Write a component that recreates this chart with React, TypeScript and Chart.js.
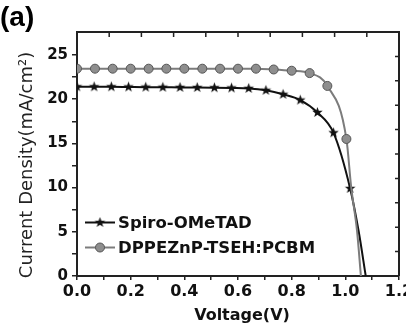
import React, { useEffect, useRef } from "react";
import { Chart, registerables } from "chart.js";

Chart.register(...registerables);

// Spiro-OMeTAD: points carrying star markers, then the curve's tail to Voc
const spiroMarkerVoltage = [0, 0.064, 0.128, 0.192, 0.256, 0.32, 0.384, 0.448, 0.512, 0.576, 0.64, 0.704, 0.768, 0.832, 0.896, 0.956, 1.018];
const spiroMarkerCurrent = [21.4, 21.4, 21.4, 21.38, 21.36, 21.35, 21.33, 21.32, 21.3, 21.27, 21.22, 21.0, 20.55, 19.9, 18.5, 16.2, 9.9];
const spiroTailVoltage = [1.05, 1.076];
const spiroTailCurrent = [5, 0];

// DPPEZnP-TSEH:PCBM: points carrying circle markers, then the tail to Voc
const dppMarkerVoltage = [0, 0.067, 0.133, 0.2, 0.267, 0.333, 0.4, 0.467, 0.533, 0.6, 0.667, 0.733, 0.8, 0.867, 0.933, 1.004];
const dppMarkerCurrent = [23.45, 23.45, 23.45, 23.45, 23.45, 23.45, 23.45, 23.45, 23.45, 23.45, 23.45, 23.36, 23.22, 22.95, 21.5, 15.5];
const dppTailVoltage = [1.022, 1.044, 1.058];
const dppTailCurrent = [10, 5, 0];

const seriesNames = ["Spiro-OMeTAD", "DPPEZnP-TSEH:PCBM"];
const xTitle = "Voltage(V)";
const yTitle = "Current Density(mA/cm²)";
const panelLabel = "(a)";

const BOLD = "'DejaVu Sans', sans-serif";

function makeStar(r: number, color: string): HTMLCanvasElement {
  const size = Math.ceil(r * 2 + 2);
  const c = document.createElement("canvas");
  c.width = size;
  c.height = size;
  const g = c.getContext("2d")!;
  const cx = size / 2, cy = size / 2;
  g.beginPath();
  for (let i = 0; i < 10; i++) {
    const rad = i % 2 === 0 ? r : r * 0.42;
    const ang = -Math.PI / 2 + (i * Math.PI) / 5;
    const px = cx + rad * Math.cos(ang);
    const py = cy + rad * Math.sin(ang);
    if (i === 0) g.moveTo(px, py);
    else g.lineTo(px, py);
  }
  g.closePath();
  g.fillStyle = color;
  g.fill();
  return c;
}

function pts(xs: number[], ys: number[]) {
  return xs.map((x, i) => ({ x, y: ys[i] }));
}

export default function App() {
  const ref = useRef<HTMLCanvasElement>(null);

  useEffect(() => {
    const canvas = ref.current;
    if (!canvas) return;
    const star = makeStar(5.5, "#111");
    const grayLine = "#7c7c7c";
    const grayFill = "#8e8e8e";
    const grayEdge = "#555";

    const spiroData = pts(spiroMarkerVoltage.concat(spiroTailVoltage), spiroMarkerCurrent.concat(spiroTailCurrent));
    const dppData = pts(dppMarkerVoltage.concat(dppTailVoltage), dppMarkerCurrent.concat(dppTailCurrent));

    const decorPlugin = {
      id: "decor",
      afterDraw(chart: any) {
        const { ctx, chartArea: a } = chart;
        ctx.save();
        // top and right frame with inward ticks
        ctx.strokeStyle = "#222";
        ctx.lineWidth = 2;
        ctx.beginPath();
        ctx.moveTo(a.left, a.top);
        ctx.lineTo(a.right, a.top);
        ctx.lineTo(a.right, a.bottom);
        ctx.stroke();
        ctx.lineWidth = 1.5;
        ctx.beginPath();
        for (let i = 1; i < 10; i++) {
          const x = a.left + ((a.right - a.left) * i) / 10;
          ctx.moveTo(x, a.top);
          ctx.lineTo(x, a.top + 5);
          const y = a.bottom - ((a.bottom - a.top) * i) / 10;
          ctx.moveTo(a.right, y);
          ctx.lineTo(a.right - 4, y);
        }
        ctx.stroke();

        // legend
        const rows = [a.bottom - 53.5, a.bottom - 28.5];
        const x0 = a.left + 8, x1 = a.left + 38;
        ctx.font = `bold 16.5px ${BOLD}`;
        ctx.textBaseline = "alphabetic";
        ctx.textAlign = "left";
        ctx.fillStyle = "#111";
        rows.forEach((y, i) => {
          ctx.beginPath();
          ctx.lineWidth = 2;
          ctx.strokeStyle = i === 0 ? "#111" : grayLine;
          ctx.moveTo(x0, y);
          ctx.lineTo(x1, y);
          ctx.stroke();
          const cx = (x0 + x1) / 2;
          if (i === 0) {
            ctx.drawImage(star, cx - star.width / 2, y - star.height / 2);
          } else {
            ctx.beginPath();
            ctx.arc(cx, y, 4.5, 0, Math.PI * 2);
            ctx.fillStyle = grayFill;
            ctx.fill();
            ctx.lineWidth = 1;
            ctx.strokeStyle = grayEdge;
            ctx.stroke();
            ctx.fillStyle = "#111";
          }
          ctx.fillText(seriesNames[i], x1 + 3, y + 5.5);
        });

        // axis titles
        ctx.fillStyle = "#111";
        ctx.font = `bold 16px ${BOLD}`;
        ctx.textAlign = "center";
        ctx.fillText(xTitle, (a.left + a.right) / 2 + 4, 320);

        ctx.save();
        ctx.translate(27, (a.top + a.bottom) / 2 + 11);
        ctx.rotate(-Math.PI / 2);
        ctx.font = `18px 'DejaVu Sans', sans-serif`;
        ctx.textBaseline = "middle";
        ctx.fillStyle = "#222";
        ctx.fillText(yTitle, 0, 0);
        ctx.restore();

        // panel label
        ctx.font = `bold 28px 'Liberation Sans', Arial, sans-serif`;
        ctx.textAlign = "left";
        ctx.textBaseline = "alphabetic";
        ctx.fillStyle = "#000";
        ctx.fillText(panelLabel, 0, 26);
        ctx.restore();
      },
    };

    const chart = new Chart(canvas, {
      type: "line",
      data: {
        datasets: [
          {
            label: seriesNames[1],
            data: dppData,
            borderColor: grayLine,
            borderWidth: 2,
            backgroundColor: grayFill,
            pointBorderColor: grayEdge,
            pointBorderWidth: 1,
            pointStyle: "circle",
            pointRadius: (c: any) => (c.dataIndex < dppMarkerVoltage.length ? 4.5 : 0),
            cubicInterpolationMode: "monotone",
            fill: false,
          },
          {
            label: seriesNames[0],
            data: spiroData,
            borderColor: "#111",
            borderWidth: 2,
            backgroundColor: "#111",
            pointStyle: star,
            pointRadius: (c: any) => (c.dataIndex < spiroMarkerVoltage.length ? 5 : 0),
            cubicInterpolationMode: "monotone",
            fill: false,
          },
        ],
      },
      options: {
        responsive: false,
        animation: false,
        devicePixelRatio: 1,
        layout: { padding: { left: 0, top: 32, right: 5, bottom: 0 } },
        plugins: { legend: { display: false }, tooltip: { enabled: false } },
        scales: {
          x: {
            type: "linear",
            min: 0,
            max: 1.2,
            border: { display: true, color: "#222", width: 2 },
            grid: { drawOnChartArea: false, drawTicks: true, tickLength: 4, color: "#222", lineWidth: 1.5 },
            ticks: {
              stepSize: 0.1,
              autoSkip: false,
              maxRotation: 0,
              padding: 2,
              color: "#111",
              font: { family: BOLD, size: 16, weight: "bold" },
              callback: (v: any) => {
                const n = Math.round(Number(v) * 10);
                return n % 2 === 0 ? (n / 10).toFixed(1) : "";
              },
            },
            afterFit: (s: any) => {
              s.height = 48;
              s.paddingLeft = 0;
              s.paddingRight = 0;
            },
          },
          y: {
            type: "linear",
            min: 0,
            max: 27.6,
            border: { display: true, color: "#222", width: 2 },
            grid: { drawOnChartArea: false, drawTicks: true, tickLength: 5, color: "#222", lineWidth: 1.5 },
            ticks: {
              stepSize: 2.5,
              autoSkip: false,
              padding: 4,
              color: "#111",
              font: { family: BOLD, size: 15, weight: "bold" },
              callback: (v: any) => {
                const n = Number(v);
                return Math.abs(n % 5) < 1e-6 ? String(n) : "";
              },
            },
            afterBuildTicks: (s: any) => {
              s.ticks = s.ticks.filter((t: any) => t.value <= 25.001);
            },
            afterFit: (s: any) => {
              s.width = 77;
              s.paddingTop = 0;
              s.paddingBottom = 0;
            },
          },
        },
      },
      plugins: [decorPlugin],
    } as any);

    return () => chart.destroy();
  }, []);

  return (
    <div style={{ position: "fixed", left: 0, top: 0, width: 406, height: 324, background: "#fff" }}>
      <canvas ref={ref} width={406} height={324} style={{ display: "block" }} />
    </div>
  );
}
